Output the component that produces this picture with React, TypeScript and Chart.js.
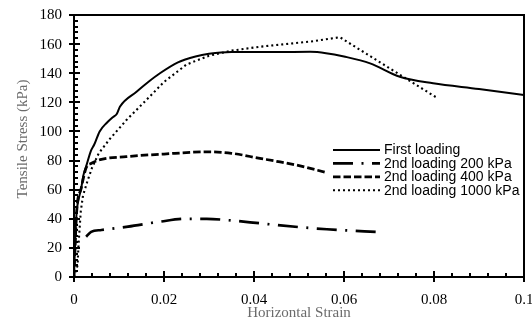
import { useEffect, useRef } from "react";
import { Chart, registerables } from "chart.js";

Chart.register(...registerables);

// ---- data ----
const seriesLabels = [
  "First loading",
  "2nd loading 200 kPa",
  "2nd loading 400 kPa",
  "2nd loading 1000 kPa",
];

const firstStrain = [0, 0.0003, 0.0006, 0.001, 0.0016, 0.0021, 0.0027, 0.0038, 0.0045, 0.0057, 0.0073, 0.0087, 0.0095, 0.0102, 0.0139, 0.0165, 0.0191, 0.0231, 0.027, 0.03, 0.035, 0.045, 0.0525, 0.056, 0.06, 0.0658, 0.0724, 0.0798, 0.09, 0.1];
const firstStress = [0, 28, 45, 53, 61, 70, 76, 87, 91, 100, 106, 110, 112, 117, 127.3, 134, 140, 147.5, 151.5, 153.3, 154.5, 154.5, 154.7, 153.8, 151.5, 146.8, 137.6, 133.1, 129.2, 125];

const s200Strain = [0.0027, 0.0038, 0.0061, 0.012, 0.0191, 0.025, 0.0295, 0.035, 0.0413, 0.05, 0.0562, 0.0687];
const s200Stress = [27.7, 31, 32.3, 34.6, 38, 40, 40, 38.8, 36.9, 34.3, 32.8, 30.7];

const s400Strain = [0, 0.0006, 0.0016, 0.0027, 0.0038, 0.0061, 0.0116, 0.02, 0.03, 0.035, 0.0413, 0.045, 0.05, 0.0562];
const s400Stress = [0, 45, 61, 75, 78, 80.8, 82.7, 84.5, 86, 85, 81.5, 79.5, 76.5, 71.7];

const s1000Strain = [0, 0.0008, 0.001, 0.0015, 0.002, 0.003, 0.004, 0.0055, 0.008, 0.0117, 0.0162, 0.02, 0.025, 0.03, 0.035, 0.0413, 0.0524, 0.0591, 0.0806];
const s1000Stress = [0, 8, 22, 45, 56, 66, 75, 85, 95, 108, 122, 134, 146, 152, 155.5, 158.2, 161.7, 164.7, 123.2];

const xTickLabels = ["0", "0.02", "0.04", "0.06", "0.08", "0.1"];
const yTickLabels = ["0", "20", "40", "60", "80", "100", "120", "140", "160", "180"];

const xMin = 0, xMax = 0.1, xStep = 0.02, xMinorStep = 0.004;
const yMin = 0, yMax = 180, yStep = 20, yMinorStep = 4;

const xTitle = "Horizontal Strain";
const yTitle = "Tensile Stress (kPa)";

const lineWidths = [2, 2.7, 2.75, 2.1];
const lineDashes: number[][] = [[], [20, 8.5, 2, 8.5], [7.5, 3], [2, 3]];
const lineTension = [0.4, 0.4, 0.4, 0];

function pts(xs: number[], ys: number[]) {
  return xs.map((x, i) => ({ x, y: ys[i] }));
}

function line(ctx: CanvasRenderingContext2D, x1: number, y1: number, x2: number, y2: number) {
  ctx.beginPath();
  ctx.moveTo(x1, y1);
  ctx.lineTo(x2, y2);
  ctx.stroke();
}

function fillBar(ctx: CanvasRenderingContext2D, x: number, y: number, w: number, h: number) {
  ctx.beginPath();
  ctx.moveTo(x, y);
  ctx.lineTo(x + w, y);
  ctx.lineTo(x + w, y + h);
  ctx.lineTo(x, y + h);
  ctx.closePath();
  ctx.fill();
}

function drawBox(ctx: CanvasRenderingContext2D, left: number, top: number, right: number, bottom: number) {
  ctx.fillStyle = "#000000";
  fillBar(ctx, left - 1, top - 1, right - left + 2, 2);
  fillBar(ctx, right - 1, top - 1, 2, bottom - top + 2);
  fillBar(ctx, left - 1, bottom - 1, right - left + 2, 2);
  fillBar(ctx, left - 1, top - 1, 2, bottom - top + 2);
}

const framePlugin = {
  id: "frameBox",
  afterDraw(chart: any) {
    const ctx: CanvasRenderingContext2D = chart.ctx;
    const ca = chart.chartArea;
    const xs = chart.scales.x;
    const ys = chart.scales.y;
    const left = ca.left, right = ca.right, top = ca.top, bottom = ca.bottom;
    ctx.save();
    ctx.strokeStyle = "#000000";
    ctx.lineWidth = 2;
    ctx.setLineDash([]);

    // x ticks
    const nx = Math.round((xMax - xMin) / xMinorStep);
    const xr = Math.round(xStep / xMinorStep);
    for (let i = 0; i <= nx; i++) {
      const px = Math.round(xs.getPixelForValue(xMin + i * xMinorStep));
      if (i % xr === 0) line(ctx, px, bottom + 5, px, bottom - 6);
      else line(ctx, px, bottom, px, bottom - 4);
    }
    // y ticks
    const ny = Math.round((yMax - yMin) / yMinorStep);
    const yr = Math.round(yStep / yMinorStep);
    for (let i = 0; i <= ny; i++) {
      const py = Math.round(ys.getPixelForValue(yMin + i * yMinorStep));
      if (i % yr === 0) line(ctx, left - 5, py, left + 6, py);
      else line(ctx, left, py, left + 4, py);
    }

    // tick labels
    ctx.fillStyle = "#000000";
    ctx.font = "15px 'Liberation Serif', 'Times New Roman', serif";
    ctx.textBaseline = "middle";
    ctx.textAlign = "center";
    xTickLabels.forEach((t, i) => {
      ctx.fillText(t, xs.getPixelForValue(xMin + i * xStep), 300);
    });
    ctx.textAlign = "right";
    yTickLabels.forEach((t, i) => {
      ctx.fillText(t, left - 12, ys.getPixelForValue(yMin + i * yStep) + 0.5);
    });

    // axis titles
    ctx.fillStyle = "#6b6b6b";
    ctx.font = "15px 'Liberation Serif', 'Times New Roman', serif";
    ctx.textAlign = "center";
    ctx.textBaseline = "middle";
    ctx.fillText(xTitle, (left + right) / 2, 313);
    ctx.save();
    ctx.translate(23, 139);
    ctx.rotate(-Math.PI / 2);
    ctx.fillText(yTitle, 0, 0);
    ctx.restore();

    // legend
    const lx0 = 333, lx1 = 380, tx = 384;
    const rows = [150, 163.4, 176.8, 190.2];
    ctx.font = "14px 'Liberation Sans', Arial, sans-serif";
    ctx.textAlign = "left";
    ctx.fillStyle = "#000000";
    ctx.strokeStyle = "#000000";
    chart.data.datasets.forEach((ds: any, i: number) => {
      const y = rows[i];
      ctx.lineWidth = ds.borderWidth;
      ctx.setLineDash(ds.borderDash || []);
      line(ctx, lx0, y, lx1, y);
      ctx.setLineDash([]);
      ctx.fillText(ds.label, tx, y + 0.5);
    });

    // plot box (filled bars)
    drawBox(ctx, left, top, right, bottom);
    ctx.restore();
  },
};

export default function App() {
  const ref = useRef<HTMLCanvasElement | null>(null);
  useEffect(() => {
    if (!ref.current) return;
    const series = [
      pts(firstStrain, firstStress),
      pts(s200Strain, s200Stress),
      pts(s400Strain, s400Stress),
      pts(s1000Strain, s1000Stress),
    ];
    const borderOpts = { display: true, color: "#000000", width: 2 };
    const chart = new Chart(ref.current, {
      type: "line",
      data: {
        datasets: series.map((d, i) => ({
          label: seriesLabels[i],
          data: d,
          borderColor: "#000000",
          backgroundColor: "#000000",
          borderWidth: lineWidths[i],
          borderDash: lineDashes[i],
          pointRadius: 0,
          fill: false,
          tension: lineTension[i],
          cubicInterpolationMode: i === 3 ? ("default" as const) : ("monotone" as const),
        })),
      },
      options: {
        animation: false,
        responsive: false,
        devicePixelRatio: 1,
        layout: { padding: { left: 0, right: 8, top: 15, bottom: 0 } },
        plugins: { legend: { display: false }, tooltip: { enabled: false } },
        scales: {
          x: {
            type: "linear",
            min: xMin,
            max: xMax,
            afterFit: (s: any) => { s.height = 45; s.paddingLeft = 0; s.paddingRight = 0; },
            grid: { display: false, drawTicks: false },
            border: borderOpts,
            ticks: { display: false, stepSize: xStep },
          },
          y: {
            type: "linear",
            min: yMin,
            max: yMax,
            afterFit: (s: any) => { s.width = 74; s.paddingTop = 0; s.paddingBottom = 0; },
            grid: { display: false, drawTicks: false },
            border: borderOpts,
            ticks: { display: false, stepSize: yStep },
          },
          xTop: {
            type: "linear",
            position: "top",
            min: xMin,
            max: xMax,
            afterFit: (s: any) => { s.height = 0; s.paddingLeft = 0; s.paddingRight = 0; },
            grid: { display: false, drawTicks: false },
            border: borderOpts,
            ticks: { display: false },
          },
          yRight: {
            type: "linear",
            position: "right",
            min: yMin,
            max: yMax,
            afterFit: (s: any) => { s.width = 0; s.paddingTop = 0; s.paddingBottom = 0; },
            grid: { display: false, drawTicks: false },
            border: borderOpts,
            ticks: { display: false },
          },
        },
      },
      plugins: [framePlugin],
    });
    return () => chart.destroy();
  }, []);
  return (
    <div style={{ position: "fixed", left: 0, top: 0, width: 532, height: 322, background: "#fff" }}>
      <canvas ref={ref} width={532} height={322} style={{ width: 532, height: 322, display: "block" }} />
    </div>
  );
}
